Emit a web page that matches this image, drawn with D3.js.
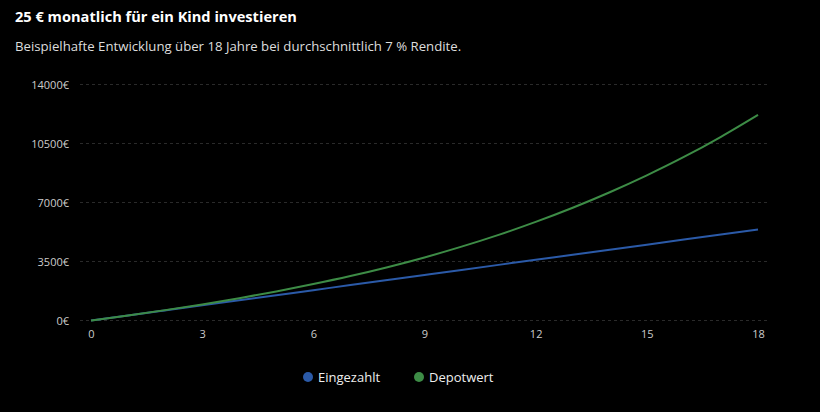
<!DOCTYPE html>
<html>
<head>
<meta charset="utf-8">
<script src="https://cdn.jsdelivr.net/npm/d3@7"></script>
<style>
  body { margin: 0; background: #000; }
  text { font-family: "Open Sans", "Noto Sans", sans-serif; }
</style>
</head>
<body>
<div id="chart"></div>
<script>
// data
const years = [0,1,2,3,4,5,6,7,8,9,10,11,12,13,14,15,16,17,18];
const eingezahlt = [0,300,600,900,1200,1500,1800,2100,2400,2700,3000,3300,3600,3900,4200,4500,4800,5100,5400];
const depotwert = [0,300,615,955,1325,1725,2160,2635,3160,3740,4380,5080,5850,6690,7610,8610,9700,10900,12200];
const yTicks = [0,3500,7000,10500,14000];
const xTicks = [0,3,6,9,12,15,18];
const seriesNames = ["Eingezahlt","Depotwert"];
const colors = ["#2b5aa8","#3d8c46"];

const W = 820, H = 412;
const svg = d3.select("#chart").append("svg")
    .attr("width", W)
    .attr("height", H)
    .style("background", "#000");

svg.append("text")
    .attr("x", 15).attr("y", 22)
    .text("25 € monatlich für ein Kind investieren")
    .style("font-size", "14.6px")
    .style("font-weight", "bold")
    .attr("fill", "#fff");

svg.append("text")
    .attr("x", 15).attr("y", 51)
    .text("Beispielhafte Entwicklung über 18 Jahre bei durchschnittlich 7 % Rendite.")
    .style("font-size", "13.2px")
    .attr("fill", "#ddd");

const gridLeft = 80, gridRight = 770;
const x = d3.scaleLinear().domain([0, 18]).range([91, 758]);
const y = d3.scaleLinear().domain([0, 14000]).range([320.5, 84.5]);

// grid
svg.append("g").selectAll("line")
  .data(yTicks)
  .enter().append("line")
    .attr("x1", gridLeft).attr("x2", gridRight)
    .attr("y1", d => y(d)).attr("y2", d => y(d))
    .attr("stroke", "#2a2a2a")
    .attr("stroke-width", 1)
    .attr("stroke-dasharray", "3,3");

// y axis
const yAxis = svg.append("g")
    .attr("transform", "translate(" + gridLeft + ",0)")
    .call(d3.axisLeft(y).tickValues(yTicks).tickSize(0).tickPadding(11).tickFormat(d => d + "€"));
yAxis.select(".domain").remove();
yAxis.selectAll("text").attr("fill", "#ccc").style("font-size", "11px");

// x axis
const xAxis = svg.append("g")
    .attr("transform", "translate(0,326)")
    .call(d3.axisBottom(x).tickValues(xTicks).tickSize(0).tickPadding(4));
xAxis.select(".domain").remove();
xAxis.selectAll("text").attr("fill", "#ccc").style("font-size", "11px");

const series = [eingezahlt, depotwert];
const line = d3.line()
    .x((d, i) => x(years[i]))
    .y(d => y(d))
    .curve(d3.curveMonotoneX);

series.forEach((s, k) => {
  svg.append("path")
    .datum(s)
    .attr("fill", "none")
    .attr("stroke", colors[k])
    .attr("stroke-width", 2)
    .attr("d", line);
});

// legend
const legendX = [308, 419];
seriesNames.forEach((name, k) => {
  svg.append("circle")
    .attr("cx", legendX[k]).attr("cy", 377)
    .attr("r", 5)
    .attr("fill", colors[k]);
  svg.append("text")
    .attr("x", legendX[k] + 10).attr("y", 377)
    .attr("dominant-baseline", "central")
    .text(name)
    .style("font-size", "13px")
    .attr("fill", "#eee");
});
</script>
</body>
</html>
